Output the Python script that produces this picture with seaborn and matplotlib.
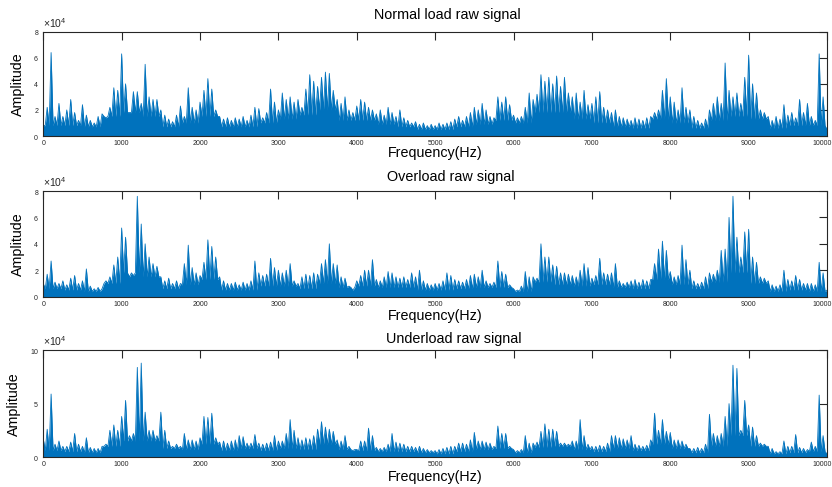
import matplotlib
matplotlib.use('Agg')
import matplotlib.pyplot as plt
import matplotlib.transforms as mtransforms
import numpy as np
import pandas as pd
import seaborn as sns

# %% spectrum envelopes (units of 1e4), one value per 50 Hz, 0..10000 Hz
freq = np.arange(0, 10001, 50)

normal_peak = [
    0.8, 2.2, 6.4, 1.5, 2.5, 1.5, 2.0, 2.8, 1.8, 1.2, 2.4, 1.6, 1.2, 1.0, 1.5, 1.7, 1.4, 2.2, 3.7, 3.5,
    6.3, 4.0, 1.8, 3.4, 3.4, 2.5, 5.5, 3.0, 2.8, 2.8, 2.0, 1.6, 1.3, 1.1, 1.6, 2.3, 1.5, 3.7, 2.2, 2.0,
    2.6, 3.5, 4.4, 3.6, 2.0, 1.5, 1.3, 1.4, 1.2, 1.4, 1.3, 1.5, 1.2, 1.6, 2.2, 2.1, 1.4, 1.8, 3.6, 2.6,
    2.0, 3.3, 2.8, 3.0, 2.6, 2.8, 2.2, 3.6, 4.7, 4.2, 3.8, 4.5, 4.9, 4.8, 3.5, 2.8, 2.5, 3.0, 2.0, 1.8,
    2.3, 2.8, 2.6, 2.2, 2.0, 1.7, 2.0, 1.6, 2.2, 1.8, 1.5, 2.0, 1.4, 1.2, 1.0, 1.1, 0.9, 1.0, 0.8, 0.9,
    0.8, 1.0, 0.9, 1.0, 1.1, 1.3, 1.5, 1.2, 1.5, 1.8, 2.2, 2.0, 2.5, 2.0, 1.5, 1.4, 3.0, 2.6, 3.0, 2.4,
    1.6, 1.4, 1.5, 2.2, 3.3, 2.8, 3.2, 4.7, 4.2, 4.5, 4.0, 4.6, 3.8, 4.5, 3.3, 3.0, 3.3, 2.6, 3.5, 2.4,
    2.5, 3.0, 3.4, 2.2, 2.0, 1.8, 2.0, 1.5, 1.4, 1.3, 1.2, 1.4, 1.3, 1.2, 1.4, 1.5, 1.8, 2.0, 3.5, 4.4,
    3.0, 2.6, 2.0, 3.7, 2.2, 2.0, 1.5, 1.2, 1.0, 1.3, 2.0, 2.5, 3.0, 2.5, 5.6, 3.5, 3.0, 3.3, 2.5, 4.5,
    6.2, 4.0, 3.3, 2.0, 1.8, 1.5, 1.2, 1.5, 1.3, 2.4, 1.6, 1.8, 1.4, 2.8, 1.8, 2.5, 1.5, 1.2, 6.3, 3.0,
    0.5]
overload_peak = [
    1.0, 1.7, 2.7, 1.1, 1.0, 1.2, 0.9, 1.4, 1.6, 1.0, 1.2, 2.1, 0.8, 0.6, 0.7, 0.6, 1.2, 1.5, 2.4, 3.0,
    5.2, 4.5, 1.5, 1.6, 7.6, 5.5, 4.0, 3.0, 2.5, 2.3, 1.5, 1.2, 1.4, 1.0, 1.2, 1.0, 2.5, 3.9, 2.2, 1.8,
    1.6, 2.6, 4.3, 3.8, 3.0, 1.5, 1.2, 1.0, 1.0, 1.1, 0.9, 1.1, 1.0, 1.2, 2.7, 1.8, 1.6, 1.7, 2.9, 2.2,
    2.0, 1.8, 2.0, 2.5, 1.2, 1.0, 1.5, 1.7, 1.6, 1.8, 1.7, 2.5, 2.8, 4.0, 2.5, 2.4, 1.5, 1.4, 0.8, 0.5,
    1.2, 1.6, 2.0, 2.0, 2.8, 1.3, 1.2, 1.5, 1.9, 1.8, 1.5, 1.4, 1.5, 1.3, 1.8, 1.5, 2.0, 1.2, 1.0, 0.9,
    1.0, 1.0, 1.2, 1.8, 1.6, 1.3, 1.2, 1.1, 1.3, 1.6, 1.7, 1.5, 2.0, 1.2, 1.0, 1.1, 2.7, 1.9, 1.7, 0.9,
    0.6, 0.5, 0.8, 1.9, 1.5, 1.5, 1.4, 4.0, 3.0, 3.0, 2.4, 2.3, 1.8, 1.8, 1.7, 1.6, 1.5, 2.0, 2.5, 2.2,
    1.4, 1.6, 2.9, 1.8, 1.7, 1.8, 2.5, 1.2, 1.0, 1.1, 1.2, 1.3, 1.1, 1.3, 1.2, 1.3, 2.5, 3.6, 4.2, 3.5,
    1.9, 1.5, 1.6, 3.9, 2.8, 2.0, 1.2, 1.0, 1.1, 1.5, 1.8, 1.7, 2.0, 3.5, 3.6, 6.0, 7.6, 4.5, 3.0, 4.9,
    5.1, 3.0, 2.6, 1.5, 1.4, 1.2, 0.9, 0.8, 0.9, 2.0, 1.3, 1.2, 1.6, 1.3, 1.0, 1.0, 1.0, 0.9, 2.6, 1.8,
    0.5]
underload_peak = [
    1.7, 2.6, 5.9, 1.2, 1.5, 1.0, 1.0, 1.4, 2.2, 1.2, 1.0, 1.8, 0.9, 0.8, 0.8, 1.0, 1.2, 2.5, 3.0, 2.5,
    3.8, 5.3, 2.0, 2.2, 8.4, 8.8, 4.2, 2.5, 2.5, 2.0, 4.2, 2.5, 1.5, 1.0, 1.2, 1.0, 2.2, 1.6, 1.6, 1.5,
    1.8, 3.8, 3.7, 4.1, 1.8, 1.4, 1.5, 1.3, 1.5, 1.6, 2.0, 1.9, 1.3, 1.3, 2.1, 1.3, 1.2, 1.3, 1.4, 2.0,
    1.5, 1.5, 2.2, 3.5, 2.5, 1.8, 1.6, 1.8, 1.7, 2.0, 2.6, 3.3, 2.8, 2.6, 2.4, 1.6, 1.5, 2.0, 1.0, 0.6,
    0.7, 1.5, 1.5, 2.7, 2.0, 0.9, 0.8, 0.9, 1.2, 2.2, 1.4, 1.3, 1.2, 1.0, 1.0, 0.9, 1.0, 0.8, 0.7, 0.6,
    0.6, 0.7, 0.8, 0.9, 1.0, 1.0, 1.3, 1.3, 1.2, 1.6, 2.3, 1.5, 1.5, 1.4, 1.3, 1.0, 2.9, 2.2, 2.2, 1.0,
    0.7, 0.6, 0.7, 2.0, 1.3, 1.3, 1.4, 2.4, 3.1, 2.6, 2.6, 2.4, 1.3, 1.3, 1.2, 1.5, 1.5, 3.5, 2.0, 1.2,
    1.0, 1.0, 1.1, 1.0, 1.3, 2.0, 2.0, 1.8, 1.7, 1.6, 2.0, 1.2, 1.1, 1.0, 1.1, 1.6, 4.1, 2.5, 3.5, 2.4,
    2.3, 1.6, 1.6, 1.5, 1.2, 0.8, 0.8, 0.9, 0.8, 1.2, 4.0, 2.2, 2.0, 2.2, 3.8, 5.0, 8.6, 8.3, 2.5, 5.3,
    3.0, 2.8, 2.0, 1.3, 1.2, 1.0, 0.8, 0.5, 0.5, 1.5, 1.0, 1.0, 2.1, 0.9, 0.8, 0.7, 1.4, 1.0, 5.8, 2.0,
    0.3]

# level of the solid band under the spikes, one value per 250 Hz band
normal_body = [0.8, 0.8, 0.7, 1.5, 1.8, 1.5, 0.7, 1.0, 1.5, 0.7,
               0.7, 1.0, 1.3, 1.6, 2.0, 1.2, 1.2, 0.9, 0.7, 0.5,
               0.5, 0.7, 0.9, 1.2, 1.0, 1.8, 1.8, 1.3, 1.0, 0.7,
               0.6, 1.3, 1.0, 0.6, 1.2, 1.5, 1.3, 0.6, 0.8, 0.8]
overload_body = [0.6, 0.5, 0.4, 1.0, 1.8, 1.5, 0.6, 0.9, 1.3, 0.5,
                 0.5, 0.8, 0.8, 0.6, 1.0, 0.7, 0.8, 0.7, 0.7, 0.5,
                 0.5, 0.6, 0.7, 0.7, 0.4, 1.1, 0.9, 0.8, 0.9, 0.7,
                 0.6, 1.3, 0.9, 0.6, 1.1, 1.8, 1.0, 0.4, 0.5, 0.4]
underload_body = [0.6, 0.5, 0.4, 1.0, 1.5, 1.5, 0.8, 0.7, 1.2, 0.6,
                  0.8, 0.6, 0.8, 0.7, 1.2, 0.7, 0.6, 0.5, 0.5, 0.4,
                  0.3, 0.5, 0.7, 0.8, 0.4, 0.9, 1.0, 0.7, 0.5, 0.8,
                  0.6, 1.2, 0.8, 0.4, 1.0, 2.0, 1.0, 0.3, 0.4, 0.5]

titles = ['Normal load raw signal', 'Overload raw signal', 'Underload raw signal']
ymax = [8e4, 8e4, 10e4]
yticks = [[0, 2e4, 4e4, 6e4, 8e4], [0, 2e4, 4e4, 6e4, 8e4], [0, 5e4, 10e4]]

# %%
def spectrum_frame(peak, body):
    peak = np.asarray(peak)
    trough = np.repeat(body, 5)
    x = np.empty(2 * len(peak) - 1)
    y = np.empty_like(x)
    x[0::2], y[0::2] = freq, peak
    x[1::2], y[1::2] = freq[:-1] + 25, trough
    return pd.DataFrame({'Frequency(Hz)': x, 'Amplitude': y * 1e4})

sns.set_theme(style='white')
plt.rcParams['font.family'] = ['Liberation Sans', 'DejaVu Sans']
plt.rcParams['mathtext.fontset'] = 'custom'
plt.rcParams['mathtext.rm'] = 'Liberation Sans'

blue = '#0072BD'
dark = '#262626'
fig = plt.figure(figsize=(8.32, 4.87), dpi=100)
boxes = [[0.052, 0.7207, 0.942, 0.2142],
         [0.052, 0.3908, 0.942, 0.2170],
         [0.052, 0.0616, 0.942, 0.2191]]
title_x = [0.515, 0.52, 0.524]
title_pad = [9.4, 7.2, 5.3]
xlabel_pad = [-1, 1, 1]

series = [(normal_peak, normal_body), (overload_peak, overload_body), (underload_peak, underload_body)]
for i, (peak, body) in enumerate(series):
    ax = fig.add_axes(boxes[i])
    df = spectrum_frame(peak, body)
    ax.fill_between(df['Frequency(Hz)'], 0, df['Amplitude'], color=blue, linewidth=0)
    sns.lineplot(data=df, x='Frequency(Hz)', y='Amplitude', sort=False, estimator=None,
                 color=blue, linewidth=0.6, ax=ax)
    ax.set_xlim(0, 10000)
    ax.set_ylim(0, ymax[i])
    ax.set_xticks(np.arange(0, 10001, 1000))
    ax.set_yticks(yticks[i])
    ax.ticklabel_format(axis='y', style='sci', scilimits=(4, 4), useMathText=True)
    ax.yaxis.get_offset_text().set_fontsize(7.5)
    ax.yaxis.get_offset_text().set_color('#555555')
    ax.tick_params(direction='in', top=True, right=True, length=5.5, width=0.8,
                   labelsize=5, colors=dark, pad=3)
    last = ax.get_xticklabels()[-1]
    last.set_ha('right')
    last.set_transform(last.get_transform() + mtransforms.ScaledTranslation(0.05, 0, fig.dpi_scale_trans))
    for s in ax.spines.values():
        s.set_color(dark)
        s.set_linewidth(0.8)
    ax.set_xlabel('Frequency(Hz)', fontsize=10.3, labelpad=xlabel_pad[i], color='black')
    ax.set_ylabel('Amplitude', fontsize=10.3, labelpad=6, color='black')
    ax.set_title(titles[i], fontsize=10.4, pad=title_pad[i], color='black')
    ax.title.set_x(title_x[i])

fig.savefig('out.png', dpi=100)
